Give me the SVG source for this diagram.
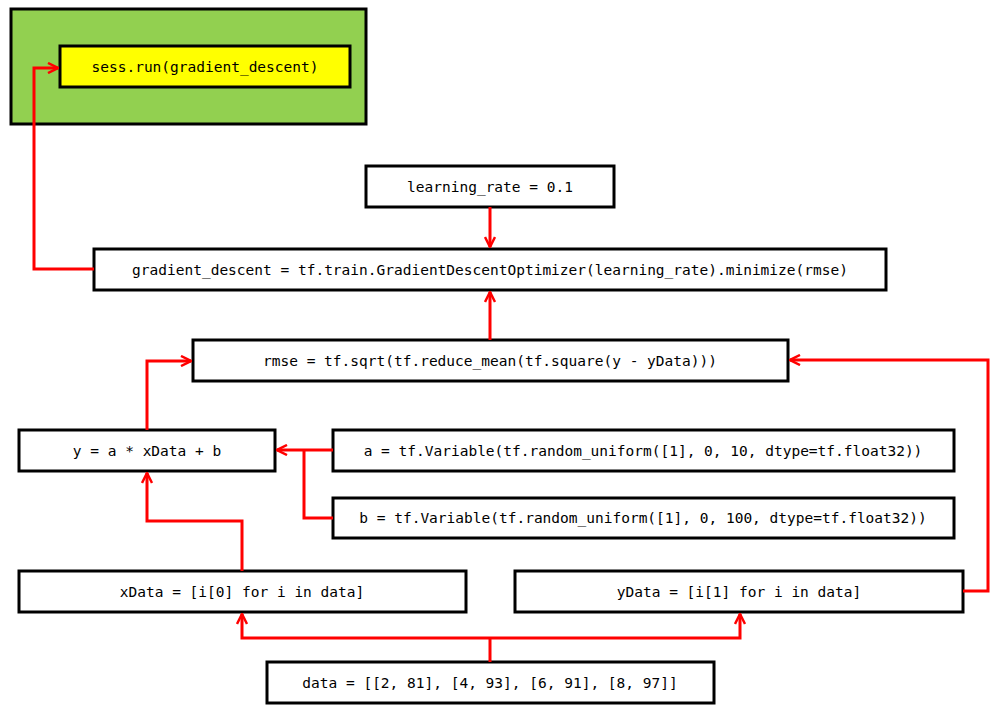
<svg xmlns="http://www.w3.org/2000/svg" width="996" height="714" viewBox="0 0 996 714">
<style>
.box{fill:#fff;stroke:#000;stroke-width:3}
.t{font-family:"DejaVu Sans Mono","Liberation Mono",monospace;font-size:14.5px;fill:#000;text-anchor:middle;dominant-baseline:central}
.c{fill:none;stroke:#ff0000;stroke-width:3;marker-end:url(#ah)}
.n{fill:none;stroke:#ff0000;stroke-width:3}
</style>
<defs>
<marker id="ah" viewBox="0 0 12 12" refX="11" refY="6" markerWidth="12" markerHeight="12" markerUnits="userSpaceOnUse" orient="auto">
<path d="M1,1 L11,6 L1,11" fill="none" stroke="#ff0000" stroke-width="2.5"/>
</marker>
</defs>
<rect width="996" height="714" fill="#fff"/>
<g id="session">
<rect x="11" y="9" width="355" height="115" fill="#92D050" stroke="#000" stroke-width="3"/>
</g>
<g id="sess_run">
<rect x="60" y="46" width="290" height="41" fill="#ffff00" stroke="#000" stroke-width="3"/>
<text class="t" x="205" y="66.5">sess.run(gradient_descent)</text>
</g>
<g id="learning_rate">
<rect class="box" x="366" y="166" width="248" height="41"/>
<text class="t" x="490" y="186.5">learning_rate = 0.1</text>
</g>
<g id="gradient_descent">
<rect class="box" x="94" y="249" width="792" height="41"/>
<text class="t" x="490" y="269.5">gradient_descent = tf.train.GradientDescentOptimizer(learning_rate).minimize(rmse)</text>
</g>
<g id="rmse">
<rect class="box" x="193" y="340" width="595" height="41"/>
<text class="t" x="490" y="360.5">rmse = tf.sqrt(tf.reduce_mean(tf.square(y - yData)))</text>
</g>
<g id="y">
<rect class="box" x="19" y="430" width="256" height="41"/>
<text class="t" x="147" y="450.5">y = a * xData + b</text>
</g>
<g id="a">
<rect class="box" x="333" y="430" width="621" height="41"/>
<text class="t" x="643" y="450.5">a = tf.Variable(tf.random_uniform([1], 0, 10, dtype=tf.float32))</text>
</g>
<g id="b">
<rect class="box" x="333" y="498" width="621" height="40"/>
<text class="t" x="643" y="518">b = tf.Variable(tf.random_uniform([1], 0, 100, dtype=tf.float32))</text>
</g>
<g id="xData">
<rect class="box" x="19" y="571" width="447" height="41"/>
<text class="t" x="242" y="591.5">xData = [i[0] for i in data]</text>
</g>
<g id="yData">
<rect class="box" x="515" y="571" width="448" height="41"/>
<text class="t" x="739" y="591.5">yData = [i[1] for i in data]</text>
</g>
<g id="data">
<rect class="box" x="267" y="662" width="447" height="41"/>
<text class="t" x="490" y="682.5">data = [[2, 81], [4, 93], [6, 91], [8, 97]]</text>
</g>
<g id="connectors">
<path class="c" d="M94,269 H34 V68 H58"/>
<path class="c" d="M490,207 V247"/>
<path class="c" d="M490,340 V292"/>
<path class="c" d="M147,430 V361 H191"/>
<path class="c" d="M333,450 H277"/>
<path class="n" d="M333,518 H304 V450"/>
<path class="c" d="M242,571 V521 H147 V473"/>
<path class="c" d="M963,591 H988 V360 H790"/>
<path class="n" d="M490,662 V638"/>
<path class="c" d="M490,638 H242 V614"/>
<path class="c" d="M490,638 H740 V614"/>
</g>
</svg>
